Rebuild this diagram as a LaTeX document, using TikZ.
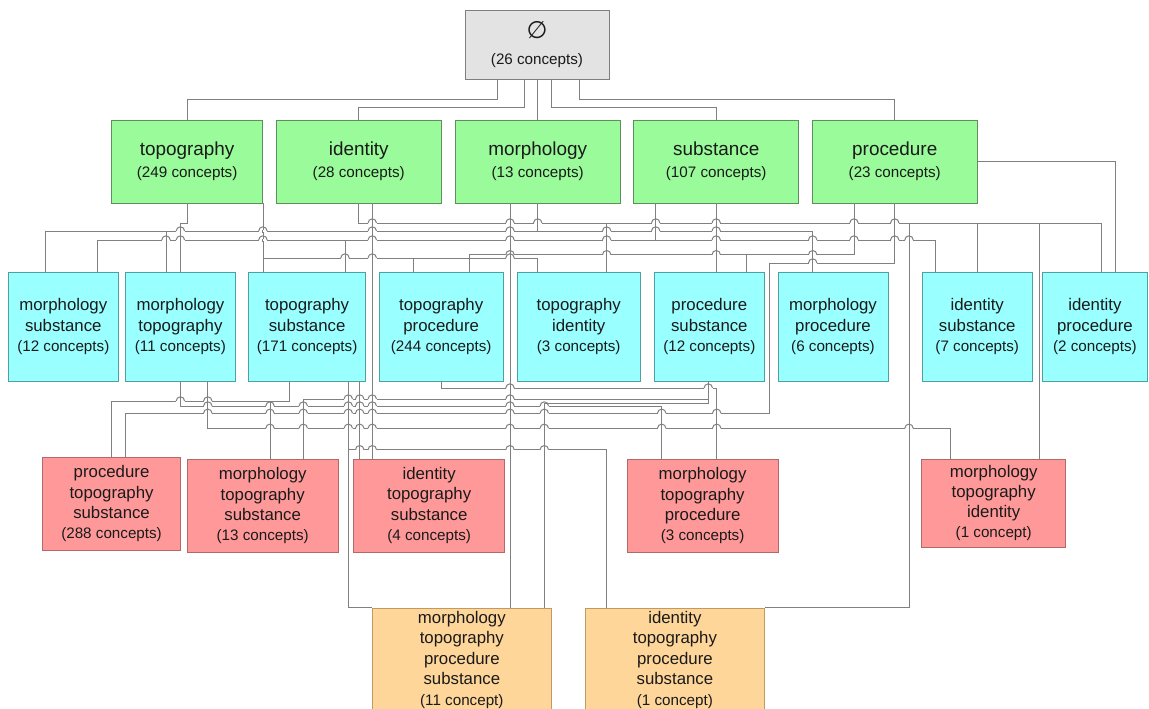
\documentclass[tikz,border=0pt]{standalone}
\usepackage{fontspec}
\setmainfont{Liberation Sans}
\newfontfamily\symf{DejaVu Sans}
\usetikzlibrary{calc}
\definecolor{Ink}{HTML}{1A1A1A}
\definecolor{Wire}{HTML}{808080}
\definecolor{RootFill}{HTML}{E3E3E3}
\definecolor{RootLine}{HTML}{7F7F7F}
\definecolor{OneFill}{HTML}{99FB99}
\definecolor{OneLine}{HTML}{5F8F5F}
\definecolor{TwoFill}{HTML}{99FFFF}
\definecolor{TwoLine}{HTML}{4F9FA3}
\definecolor{ThreeFill}{HTML}{FF9999}
\definecolor{ThreeLine}{HTML}{B06A6A}
\definecolor{FourFill}{HTML}{FFD699}
\definecolor{FourLine}{HTML}{C09A60}
\newcommand{\cnt}[1]{{\fontsize{15.2}{20.3}\selectfont(#1)}}
\newcommand{\hop}[2]{%
  \fill[white] (#1-4.2,#2-1.1) rectangle (#1+4.2,#2+1.1);
  \draw[wire] (#1,#2-1.5) -- (#1,#2+1.5);
  \draw[wire] (#1-4.2,#2) arc[start angle=180,end angle=360,radius=4.2];}
\tikzset{
  wire/.style={draw=Wire,line width=1pt},
  cell/.style={rectangle,inner sep=0pt,line width=0.9pt,text=Ink,align=center},
  rootbox/.style={cell,fill=RootFill,draw=RootLine,font=\fontsize{15.2}{26.7}\selectfont},
  onebox/.style={cell,fill=OneFill,draw=OneLine,minimum height=83,font=\fontsize{18.9}{21.6}\selectfont},
  twobox/.style={cell,fill=TwoFill,draw=TwoLine,minimum height=109,font=\fontsize{16.8}{20.3}\selectfont},
  threebox/.style={cell,fill=ThreeFill,draw=ThreeLine,font=\fontsize{16.8}{20.3}\selectfont},
  fourbox/.style={cell,fill=FourFill,draw=FourLine,minimum height=102.7,font=\fontsize{16.8}{20.5}\selectfont}
}
\begin{document}
\begin{tikzpicture}[x=1pt,y=-1pt]
\fill[white] (0,0) rectangle (1149,709);
\useasboundingbox (0,0) rectangle (1149,709);
\node[rootbox,minimum width=144,minimum height=69] (root) at (537,44.5) {{\symf\fontsize{24}{26.7}\selectfont ∅}\\(26 concepts)};
\node[onebox,minimum width=151.5] (topo) at (187.15,161.5) {topography\\\cnt{249 concepts}};
\node[onebox,minimum width=165] (iden) at (358.75,161.5) {identity\\\cnt{28 concepts}};
\node[onebox,minimum width=164.6] (morph) at (537.7,161.5) {morphology\\\cnt{13 concepts}};
\node[onebox,minimum width=165] (subst) at (716.2,161.5) {substance\\\cnt{107 concepts}};
\node[onebox,minimum width=165.5] (proc) at (894.75,161.5) {procedure\\\cnt{23 concepts}};
\node[twobox,minimum width=109.8] (morsub) at (63.3,326.5) {morphology\\substance\\\cnt{12 concepts}};
\node[twobox,minimum width=109.8] (mortop) at (180.4,326.5) {morphology\\topography\\\cnt{11 concepts}};
\node[twobox,minimum width=116.8] (topsub) at (307.1,326.5) {topography\\substance\\\cnt{171 concepts}};
\node[twobox,minimum width=124] (toppro) at (441.2,326.5) {topography\\procedure\\\cnt{244 concepts}};
\node[twobox,minimum width=123.5] (topide) at (578.75,326.5) {topography\\identity\\\cnt{3 concepts}};
\node[twobox,minimum width=110] (prosub) at (709.3,326.5) {procedure\\substance\\\cnt{12 concepts}};
\node[twobox,minimum width=110] (morpro) at (833,326.5) {morphology\\procedure\\\cnt{6 concepts}};
\node[twobox,minimum width=109.5] (idesub) at (977.25,326.5) {identity\\substance\\\cnt{7 concepts}};
\node[twobox,minimum width=104.2] (idepro) at (1094.9,326.5) {identity\\procedure\\\cnt{2 concepts}};
\node[threebox,minimum width=137.3,minimum height=93] (protopsub) at (111.55,503.8) {procedure\\topography\\substance\\\cnt{288 concepts}};
\node[threebox,minimum width=151.2,minimum height=93.3] (mortopsub) at (262.7,505.65) {morphology\\topography\\substance\\\cnt{13 concepts}};
\node[threebox,minimum width=151.1,minimum height=93] (idetopsub) at (429.15,505.5) {identity\\topography\\substance\\\cnt{4 concepts}};
\node[threebox,minimum width=150.8,minimum height=93.3] (mortoppro) at (702.6,505.65) {morphology\\topography\\procedure\\\cnt{3 concepts}};
\node[threebox,minimum width=144,minimum height=88] (mortopide) at (993.7,503) {morphology\\topography\\identity\\\cnt{1 concept}};
\node[fourbox,minimum width=179.1] (mortopprosub) at (461.85,659.65) {morphology\\topography\\procedure\\substance\\\cnt{11 concept}};
\node[fourbox,minimum width=178.8] (idetopprosub) at (674.9,659.65) {identity\\topography\\procedure\\substance\\\cnt{1 concept}};
\draw[wire] (root.south -| 497,0) -- (497,99) -| (topo.north);
\draw[wire] (root.south -| 524,0) -- (524,107) -| (iden.north);
\draw[wire] (root.south -| morph.north) -- (morph.north);
\draw[wire] (root.south -| 551,0) -- (551,107) -| (subst.north);
\draw[wire] (root.south -| 579,0) -- (579,99) -| (proc.north);
\draw[wire] (topo.south) -- ++(0,20) -| (mortop.north);
\draw[wire] (topo.south east) -- (topo.south east |- topsub.north);
\draw[wire] (topo.south east |- 0,258) -- (537.7,258) -- (537.7,0 |- topide.north);
\draw[wire] (413.3,258) -- (413.3,0 |- toppro.north);
\draw[wire] (iden.south) |- (1101,223) -- (1101,0 |- idepro.north);
\draw[wire] (606.7,223) -- (606.7,0 |- topide.north);
\draw[wire] (idesub.north |- 0,223) -- (idesub.north);
\draw[wire] (909,223) |- (idetopprosub.north east);
\draw[wire] (1039,223) -- (1039,0 |- mortopide.north);
\draw[wire] (iden.south -| 372.3,0) -- (372.3,0 |- idetopsub.north);
\draw[wire] (morph.south) -- (morph.south |- 0,231);
\draw[wire] (45.7,0 |- morsub.north) |- (812.7,231) -- (812.7,0 |- morpro.north);
\draw[wire] (166,231) -- (166,0 |- mortop.north);
\draw[wire] (morph.south -| 510,0) -- (510,0 |- mortopprosub.north);
\draw[wire] (subst.south -| 655.7,0) -- (655.7,240);
\draw[wire] (97.7,0 |- morsub.north) |- (935.7,240) -- (935.7,0 |- idesub.north);
\draw[wire] (345,240) -- (345,0 |- topsub.north);
\draw[wire] (subst.south) -- (subst.south |- prosub.north);
\draw[wire] (proc.south -| 854,0) |- (469.3,254.7) -- (469.3,0 |- toppro.north);
\draw[wire] (746,254.7) -- (746,0 |- prosub.north);
\draw[wire] (proc.south) |- (769.3,263) |- (125.5,413.3) -- (125.5,0 |- protopsub.north);
\draw[wire] (proc.east) -| (idepro.north -| 1115,0);
\draw[wire] (toppro.south) |- (716.7,388) -- (716.7,0 |- mortoppro.north);
\draw[wire] (prosub.south -| 708.3,0) |- (544.3,403) -- (544.3,0 |- mortopprosub.north);
\draw[wire] (708.3,399) -| (mortopsub.north -| 303.3,0);
\draw[wire] (topsub.south -| 289,0) -- (289,401) -| (protopsub.north);
\draw[wire] (270,401) -- (270,0 |- mortopsub.north);
\draw[wire] (mortop.south) |- (661.7,406) -- (661.7,0 |- mortoppro.north);
\draw[wire] (mortop.south -| 207.8,0) |- (950,428.3) -- (950,0 |- mortopide.north);
\draw[wire] (topsub.south -| 348.3,0) |- (mortopprosub.north west);
\draw[wire] (348.3,449.7) -| (idetopprosub.north -| 606.7,0);
\draw[wire] (topsub.south -| 359.7,0) -- (359.7,0 |- idetopsub.north);
\foreach \x in {372.3,510,537.7,655.7,716.2,854,894.75} \hop{\x}{223};
\foreach \x in {180.4,262.9,372.3,510,606.7,655.7,716.2} \hop{\x}{231};
\foreach \x in {166,180.4,262.9,372.3,510,606.7,716.2,812.7,854,894.75,909} \hop{\x}{240};
\foreach \x in {510,606.7,716.2,812.7} \hop{\x}{254.7};
\foreach \x in {345,372.3,510} \hop{\x}{258};
\hop{812.7}{263};
\foreach \x in {510,708.3} \hop{\x}{388};
\foreach \x in {348.3,359.7,372.3,510} \hop{\x}{399};
\foreach \x in {180.4,207.8} \hop{\x}{401};
\foreach \x in {207.8,270,303.3,348.3,359.7,372.3,510,544.3} \hop{\x}{406};
\foreach \x in {207.8,270,303.3,348.3,359.7,372.3,510,544.3,661.7,716.7} \hop{\x}{413.3};
\foreach \x in {270,303.3,348.3,359.7,372.3,510,544.3,661.7,716.7,909} \hop{\x}{428.3};
\foreach \x in {359.7,372.3,510,544.3} \hop{\x}{449.7};
\end{tikzpicture}
\end{document}
